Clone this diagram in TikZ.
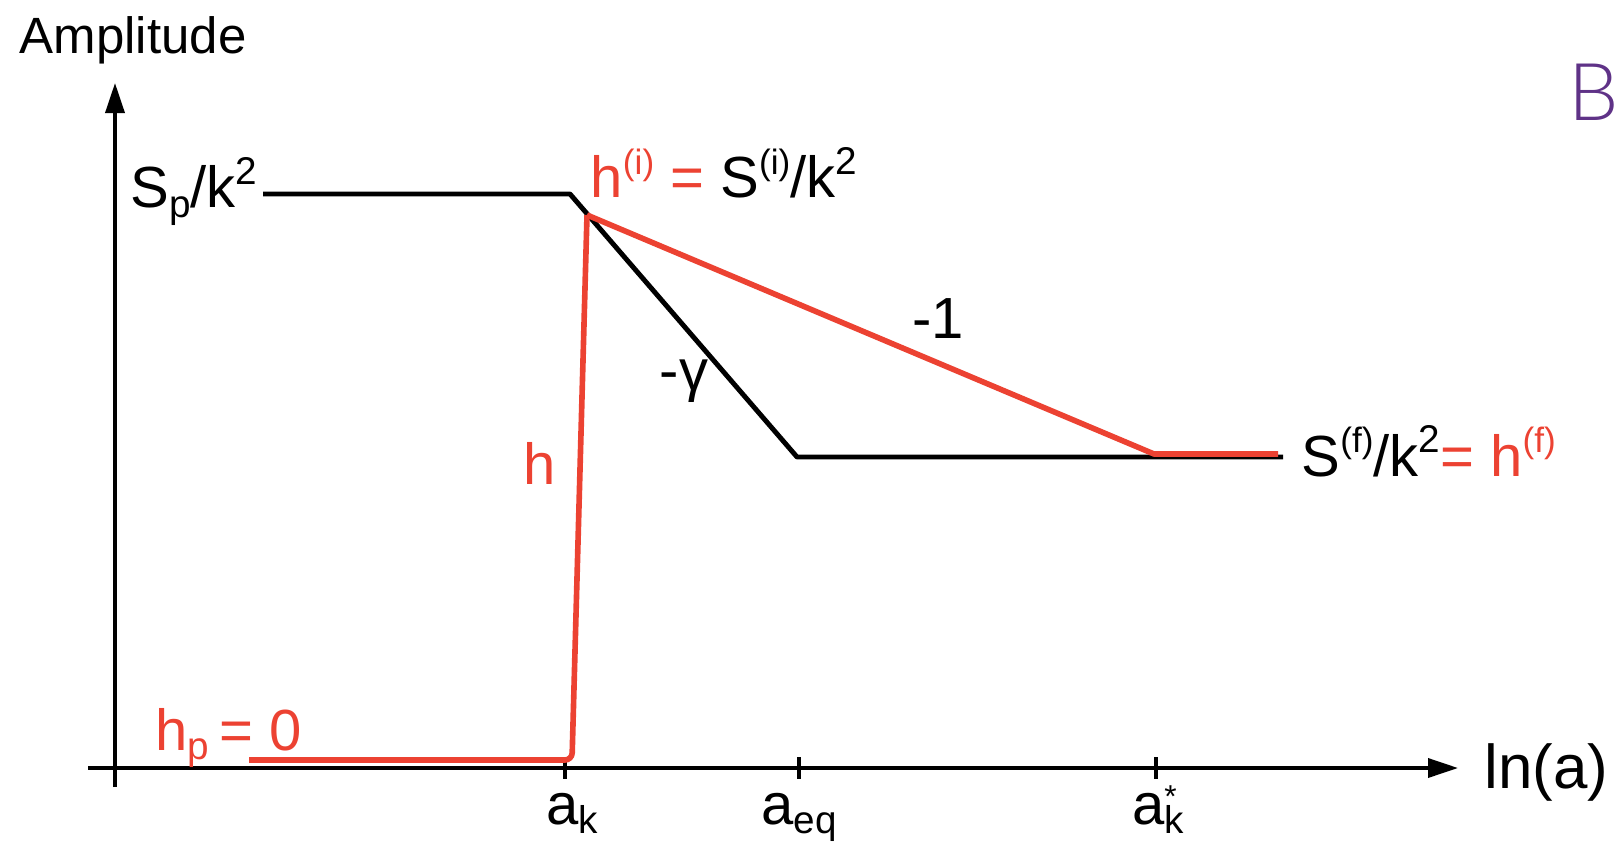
\documentclass[tikz,border=0pt]{standalone}
\usepackage{fontspec}
\setmainfont{Liberation Sans}
\newfontfamily\panelfont{Lato Light}
\usetikzlibrary{positioning, arrows.meta}

\definecolor{curvered}{RGB}{236,66,50}
\definecolor{panelpurple}{RGB}{95,50,135}

% small raised and lowered indices
\newcommand{\upidx}[1]{\raisebox{0.78ex}{\fontsize{10}{10}\selectfont #1}}
\newcommand{\lowidx}[1]{\raisebox{-0.32ex}{\fontsize{11}{11}\selectfont #1}}

\begin{document}
\begin{tikzpicture}[x=0.01cm, y=-0.01cm]

% Define styles
\tikzstyle{axis} = [line width=1pt, -{Triangle[length=0.3cm, width=0.19cm]}]
\tikzstyle{tick} = [line width=1.1pt]
\tikzstyle{blackline} = [line width=1.4pt, line join=round]
\tikzstyle{redline} = [line width=1.6pt, curvered, line join=round]
\tikzstyle{lbl} = [font=\fontsize{16.5}{18}\selectfont, inner sep=0pt]

\useasboundingbox (0,0) rectangle (1616,843);

% Axes
\coordinate (xstart) at (88,768);
\coordinate (xend) at (1458,768);
\coordinate (ystart) at (115,787);
\coordinate (yend) at (115,83);
\draw[axis] (xstart) -- (xend);
\draw[axis] (ystart) -- (yend);
\node[font=\fontsize{14.5}{16}\selectfont, inner sep=0pt, anchor=base west] (amp) at (19,54) {Amplitude};
\node[font=\fontsize{17.6}{19}\selectfont, inner sep=0pt, anchor=base west] (lna) at (1484,788) {ln(a)};

% Ticks on the time axis
\foreach \x/\name in {565/ak, 799/aeq, 1156/akstar}
  \draw[tick] (\x,757) coordinate (\name top) -- (\x,779) coordinate (\name bot);
\node[lbl, anchor=base] (akl) at (572,824) {a\lowidx{k}};
\node[lbl, anchor=base] (aeql) at (799,824) {a\lowidx{eq}};
\node[lbl, anchor=base] (akstarl) at (1158,824) {a\rlap{\raisebox{0.55ex}{\fontsize{9}{9}\selectfont *}}\lowidx{k}};

% Black curve - S/k^2
\coordinate (bstart) at (263,194);
\coordinate (bknee) at (570,194);
\coordinate (beq) at (797,457);
\coordinate (bend) at (1283,457);
\draw[blackline] (bstart) -- (bknee) -- (beq) -- (bend);

% Red curve - h
\coordinate (rstart) at (249,760);
\coordinate (rkink) at (572,760);
\coordinate (rpeak) at (587,215);
\coordinate (rflat) at (1154,454);
\coordinate (rend) at (1278,454);
\draw[redline, rounded corners=2pt] (rstart) -- (rkink) -- (rpeak);
\draw[redline] (rpeak) -- (rflat) -- (rend);

% Labels
\node[lbl, anchor=base east] (sp) at (258,208) {S\lowidx{p}/k\upidx{\fontsize{11}{11}\selectfont 2}};
\node[lbl, anchor=base west] (hi) at (590,198) {{\color{curvered}h\upidx{(i)} =} S\upidx{(i)}/k\upidx{\fontsize{11}{11}\selectfont 2}};
\node[lbl, anchor=base] (slope1) at (938,338) {-1};
\node[lbl, anchor=base] (slopeg) at (684,390) {-γ};
\node[lbl, anchor=base, curvered] (hlbl) at (540,484) {h};
\node[lbl, anchor=base west] (sf) at (1301,476) {S\upidx{(f)}/k\upidx{\fontsize{11}{11}\selectfont 2}{\color{curvered}= h\upidx{(f)}}};
\node[lbl, anchor=base west, curvered] (hp) at (155,750) {h\lowidx{p}\,= 0};

% Panel letter
\node[font=\panelfont\fontsize{22.7}{24}\selectfont, inner sep=0pt, anchor=base west, panelpurple] (panel) at (1568,121) {B};

\end{tikzpicture}
\end{document}
